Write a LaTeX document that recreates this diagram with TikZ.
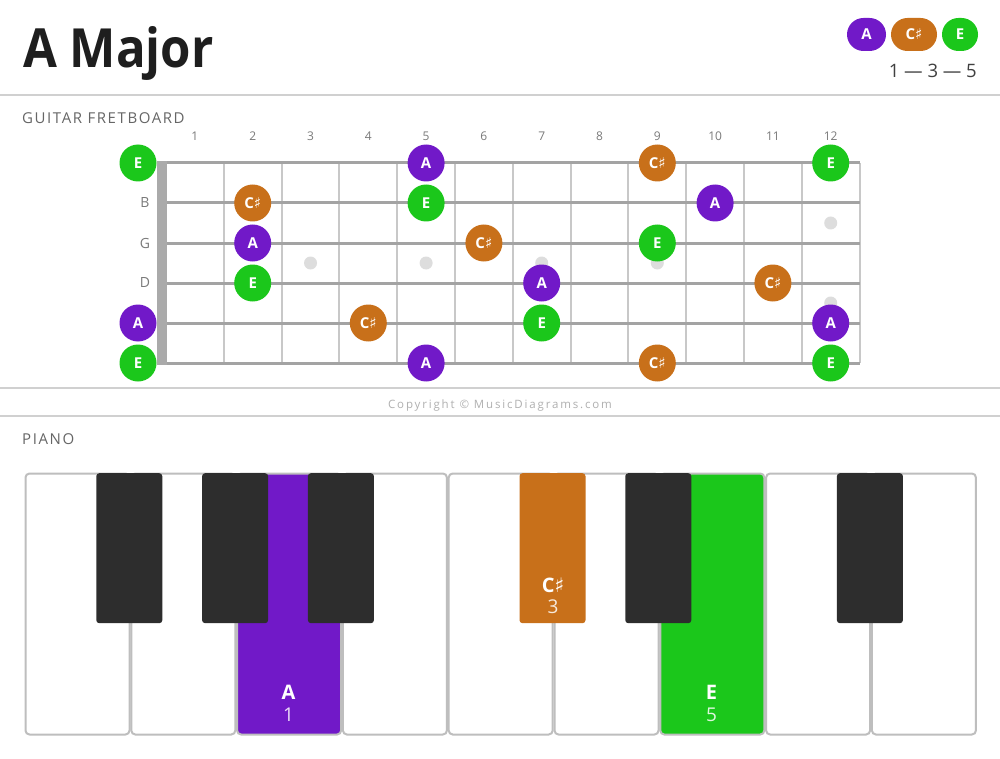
\documentclass[tikz,border=0pt]{standalone}
\usepackage{fontspec}
\setmainfont{Open Sans}
\newfontfamily\symfont{DejaVu Sans}
\newfontfamily\spacedfont{Open Sans}[LetterSpace=10.5]
\newfontfamily\copyfont{Open Sans}[LetterSpace=16]
\newcommand\shp{{\symfont\mdseries\char"266F}}
\definecolor{chA}{HTML}{7119C8}
\definecolor{chC}{HTML}{C8701A}
\definecolor{chE}{HTML}{1BC71B}
\definecolor{titlec}{HTML}{1E1E1E}
\definecolor{sepc}{HTML}{D0D0D0}
\definecolor{headc}{HTML}{666666}
\definecolor{numc}{HTML}{7A7A7A}
\definecolor{stringc}{HTML}{A3A3A3}
\definecolor{fretc}{HTML}{C8C8C8}
\definecolor{nutc}{HTML}{AAAAAA}
\definecolor{inlayc}{HTML}{DDDDDD}
\definecolor{keyline}{HTML}{BEBEBE}
\definecolor{bk}{HTML}{2D2D2D}
\definecolor{copyc}{HTML}{B0B0B0}
\begin{document}
\begin{tikzpicture}[x=1pt,y=-1pt,
  sep/.style={draw=sepc,line width=2pt},
  head/.style={anchor=west,inner sep=0,text=headc,font=\fontsize{15}{15}\selectfont\spacedfont},
  fretnum/.style={inner sep=0,text=numc,font=\fontsize{12}{12}\selectfont},
  strlab/.style={inner sep=0,text=numc,font=\fontsize{14}{14}\selectfont},
  note/.style={circle,minimum size=37pt,inner sep=0,text=white,font=\fontsize{15}{15}\selectfont\bfseries},
  pill/.style={rounded corners=16.5pt,minimum height=33pt,inner sep=0,text=white,font=\fontsize{15}{15}\selectfont\bfseries},
  fretwire/.style={draw=fretc,line width=2pt},
  stringl/.style={draw=stringc,line width=3pt},
  wkey/.style={draw=keyline,line width=2pt,rounded corners=4pt,anchor=north west,minimum width=104pt,minimum height=261pt,inner sep=0},
  bkey/.style={rounded corners=3pt,anchor=north,minimum width=66pt,minimum height=150pt,inner sep=0},
  keylab/.style={inner sep=0,text=white,font=\fontsize{20}{20}\selectfont\bfseries},
  keynum/.style={inner sep=0,text=white,text opacity=0.85,font=\fontsize{19}{19}\selectfont}]
\useasboundingbox (0,0) rectangle (1000,759);
\fill[white] (0,0) rectangle (1000,759);
% title and legend
\node[anchor=base west,inner sep=0,text=titlec,font=\fontsize{54}{54}\selectfont\bfseries] (title) at (23,68) {\scalebox{0.91}[1]{A Major}};
\node[pill,fill=chA,minimum width=39pt] (legA) at (866.5,34.5) {A};
\node[pill,fill=chC,minimum width=46pt] (legC) at (914,34.5) {C\shp};
\node[pill,fill=chE,minimum width=36pt] (legE) at (960,34.5) {E};
\node[anchor=east,inner sep=0,text=titlec!85,font=\fontsize{18.5}{18.5}\selectfont] (formula) at (977,71) {1 — 3 — 5};
% separators
\draw[sep] (0,95) -- (1000,95);
\draw[sep] (0,388) -- (1000,388);
\draw[sep] (0,416) -- (1000,416);
\node[head] (ghead) at (22,118) {GUITAR FRETBOARD};
\node[head] (phead) at (22,439) {PIANO};
\node[inner sep=0,text=copyc,font=\fontsize{11.5}{11.5}\selectfont\copyfont] (copy) at (500,406) {Copyright © MusicDiagrams.com};
% fret numbers
\foreach \f in {1,...,12} \node[fretnum] (fn\f) at ({166+57.8*(\f-0.5)},136) {\f};
% inlays
\foreach \f in {3,5,7,9} \fill[inlayc] ({166+57.8*(\f-0.5)},263) circle (6.5);
\fill[inlayc] ({166+57.8*11.5},223) circle (6.5);
\fill[inlayc] ({166+57.8*11.5},303) circle (6.5);
% frets
\foreach \f in {1,...,12} \draw[fretwire] ({166+57.8*\f},163) -- ({166+57.8*\f},363);
% strings
\foreach \s in {0,...,5} \draw[stringl] (166,{163+40*\s}) -- (860,{163+40*\s});
% nut
\fill[nutc] (157,161.5) rectangle (167,364.5);
% string labels
\node[strlab] (sB) at (145,203) {B};
\node[strlab] (sG) at (145,243) {G};
\node[strlab] (sD) at (145,283) {D};
% notes
\foreach \s/\f/\nm/\c in {0/0/E/chE,0/5/A/chA,0/9/{C\shp}/chC,0/12/E/chE,
  1/2/{C\shp}/chC,1/5/E/chE,1/10/A/chA,
  2/2/A/chA,2/6/{C\shp}/chC,2/9/E/chE,
  3/2/E/chE,3/7/A/chA,3/11/{C\shp}/chC,
  4/0/A/chA,4/4/{C\shp}/chC,4/7/E/chE,4/12/A/chA,
  5/0/E/chE,5/5/A/chA,5/9/{C\shp}/chC,5/12/E/chE}{
  \pgfmathsetmacro\nx{ifthenelse(\f==0,138,166+57.8*(\f-0.5))}
  \node[note,fill=\c] (n\s-\f) at (\nx,{163+40*\s}) {\nm};
}
% piano white keys
\foreach \i/\c in {0/white,1/white,2/chA,3/white,4/white,5/white,6/chE,7/white,8/white}
  \node[wkey,fill=\c] (w\i) at ({24.5+105.8*\i},472.5) {};
% black keys
\foreach \k/\c in {1/bk,2/bk,3/bk,5/chC,6/bk,8/bk}
  \node[bkey,fill=\c] (b\k) at ({24+105.8*\k-0.5},473) {};
% key labels
\node[keylab] (kA) at (288.5,692) {A};
\node[keynum] (kA1) at (288.5,715) {1};
\node[keylab] (kC) at (553,585) {C\shp};
\node[keynum] (kC3) at (553,607) {3};
\node[keylab] (kE) at (711.5,692) {E};
\node[keynum] (kE5) at (711.5,715) {5};
\end{tikzpicture}
\end{document}
